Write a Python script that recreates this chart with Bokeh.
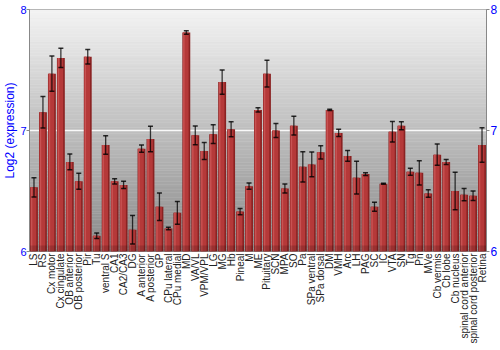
import math
import numpy as np
from bokeh.plotting import figure
from bokeh.models import Range1d, FixedTicker, LinearAxis
from bokeh.embed import file_html
from bokeh.resources import INLINE

regions = ["LS", "RS", "Cx motor", "Cx cingulate", "OB anterior", "OB posterior", "Pir", "Tu",
           "ventral S", "CA1", "CA2/CA3", "DG", "A anterior", "A posterior", "GP", "CPu lateral",
           "CPu medial", "MD", "VA/VL", "VPM/VPL", "LG", "MG", "Hb", "Pineal", "M", "ME",
           "Pituitary", "SCN", "MPA", "SO", "Pa", "SPa ventral", "SPa dorsal", "DM", "VMH", "Arc",
           "LH", "PAG", "SC", "IC", "VTA", "SN", "Tg", "Pn", "MVe", "Cb vermis", "Cb lobe",
           "Cb nucleus", "spinal cord anterior", "spinal cord posterior", "Retina"]

means = [6.53, 7.15, 7.47, 7.60, 6.74, 6.58, 7.61, 6.13, 6.88, 6.58,
         6.55, 6.18, 6.85, 6.93, 6.37, 6.19, 6.32, 7.81, 6.96, 6.83,
         6.97, 7.40, 7.01, 6.33, 6.54, 7.17, 7.47, 7.00, 6.52, 7.04,
         6.70, 6.72, 6.82, 7.17, 6.98, 6.79, 6.61, 6.64, 6.37, 6.56,
         6.99, 7.04, 6.66, 6.65, 6.48, 6.80, 6.74, 6.50, 6.47, 6.46, 6.88]

errors = [0.08, 0.13, 0.145, 0.08, 0.065, 0.066, 0.06, 0.023, 0.077, 0.022,
          0.03, 0.117, 0.03, 0.105, 0.114, 0.011, 0.094, 0.014, 0.077, 0.07,
          0.077, 0.10, 0.062, 0.026, 0.026, 0.017, 0.11, 0.058, 0.037, 0.077,
          0.125, 0.103, 0.055, 0.005, 0.03, 0.044, 0.135, 0.011, 0.037, 0.005,
          0.085, 0.033, 0.029, 0.10, 0.031, 0.088, 0.02, 0.155, 0.05, 0.039, 0.142]

y_ticks = [6, 7, 8]
y_title = "Log2 (expression)"

n = len(regions)
x = np.arange(n)
m = np.array(means)
e = np.array(errors)
ymin, ymax = y_ticks[0], y_ticks[-1]

p = figure(width=500, height=350, output_backend="svg", toolbar_location=None,
           x_range=Range1d(-0.5, n - 0.5), y_range=Range1d(ymin, ymax),
           min_border_left=28, min_border_right=14, min_border_top=9, min_border_bottom=99)
p.border_fill_color = "white"
p.outline_line_color = "#888888"
p.xgrid.visible = False
p.ygrid.visible = False

# background gradient
nb = 90
edges = np.linspace(ymin, ymax, nb + 1)
cols = []
for i in range(nb):
    t = (i + 0.5) / nb
    v = int(round(138 + (243 - 138) * t))
    cols.append("#%02x%02x%02x" % (v, v, v))
p.quad(left=-0.5, right=n - 0.5, bottom=edges[:-1], top=edges[1:],
       fill_color=cols, line_color=cols, line_width=0.5)

# inner grid line
mid = [t for t in y_ticks if ymin < t < ymax]
p.segment(x0=[-0.5] * len(mid), x1=[n - 0.5] * len(mid), y0=mid, y1=mid,
          line_color="white", line_width=1.5, line_alpha=0.9)

# bars (layered for a shaded look)
p.vbar(x=x, top=m, bottom=ymin, width=0.88, fill_color="#8a2222", line_color=None)
p.vbar(x=x - 0.06, top=m, bottom=ymin, width=0.64, fill_color="#b53939", line_color=None)
p.vbar(x=x - 0.27, top=m, bottom=ymin, width=0.16, fill_color="#c85252", line_color=None)
p.vbar(x=x, top=ymin + 0.05, bottom=ymin, width=0.88, fill_color="black", fill_alpha=0.15, line_color=None)

# error bars
lo = m - e
hi = m + e
p.segment(x0=x, y0=lo, x1=x, y1=hi, line_color="black", line_alpha=0.75, line_width=1.3)
p.dash(x=x, y=lo, size=5, line_color="black", line_alpha=0.8, line_width=1.5)
p.dash(x=x, y=hi, size=5, line_color="black", line_alpha=0.8, line_width=1.5)

# left axis
ya = p.yaxis[0]
ya.ticker = FixedTicker(ticks=y_ticks)
ya.axis_label = y_title
ya.axis_label_text_color = "blue"
ya.axis_label_text_font = "Liberation Sans"
ya.axis_label_text_font_size = "12px"
ya.axis_label_text_font_style = "normal"
ya.axis_label_standoff = 0
ya.major_label_text_color = "blue"
ya.major_label_text_font = "Liberation Sans"
ya.major_label_text_font_size = "11px"
ya.major_label_standoff = 0
ya.major_tick_out = 3
ya.major_tick_in = 0
ya.minor_tick_out = 0
ya.minor_tick_in = 0
ya.axis_line_color = "#888888"
ya.major_tick_line_color = "#888888"

# right axis
ra = LinearAxis(ticker=FixedTicker(ticks=y_ticks))
ra.major_label_text_color = "blue"
ra.major_label_text_font = "Liberation Sans"
ra.major_label_text_font_size = "12px"
ra.major_label_standoff = 1
ra.major_tick_out = 3
ra.major_tick_in = 0
ra.minor_tick_out = 0
ra.minor_tick_in = 0
ra.axis_line_color = "#888888"
ra.major_tick_line_color = "#888888"
p.add_layout(ra, "right")

# bottom axis
xa = p.xaxis[0]
xa.ticker = FixedTicker(ticks=list(range(n)))
xa.major_label_overrides = {i: r for i, r in enumerate(regions)}
xa.major_label_orientation = math.pi / 2
xa.major_label_text_font = "Liberation Sans"
xa.major_label_text_font_size = "10px"
xa.major_label_text_color = "#222222"
xa.major_label_standoff = 2
xa.major_tick_out = 0
xa.major_tick_in = 0
xa.major_tick_line_color = None
xa.minor_tick_line_color = None
xa.axis_line_color = None

open("out.html", "w").write(file_html(p, INLINE))
